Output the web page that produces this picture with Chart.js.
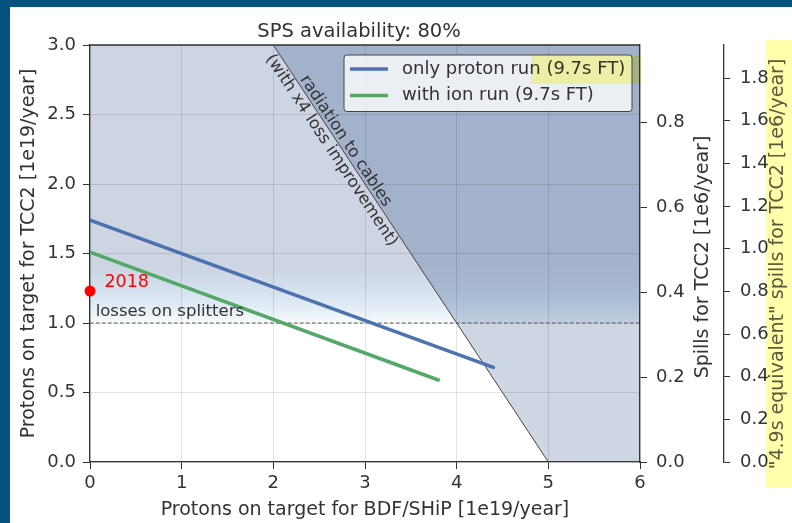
<!DOCTYPE html>
<html>
<head>
<meta charset="utf-8">
<script src="https://cdn.jsdelivr.net/npm/chart.js@4.4.1/dist/chart.umd.min.js"></script>
<style>
  html, body { margin: 0; padding: 0; background: #fff; }
</style>
</head>
<body>
<canvas id="myChart" width="792" height="523"></canvas>
<script>
// values
var protonRunX = [0, 4.4];
var protonRunY = [1.74, 0.68];
var ionRunX = [0, 3.8];
var ionRunY = [1.51, 0.59];
var point2018 = [0, 1.23];
var splitterX = [0, 6];
var splitterY = [1.0, 1.0];
var cablesX = [2, 5, 6];
var cablesY = [3, 0, 0];

var xTicks = [0, 1, 2, 3, 4, 5, 6];
var yTicks = [0, 0.5, 1.0, 1.5, 2.0, 2.5, 3.0];
var spillTicks = [0, 0.2, 0.4, 0.6, 0.8];
var spillEqTicks = [0, 0.2, 0.4, 0.6, 0.8, 1.0, 1.2, 1.4, 1.6, 1.8];
var spillMax = 0.983;
var spillEqMax = 1.955;

var titleText = 'SPS availability: 80%';
var xTitle = 'Protons on target for BDF/SHiP [1e19/year]';
var yTitle = 'Protons on target for TCC2 [1e19/year]';
var y2Title = 'Spills for TCC2 [1e6/year]';
var y3Title = '"4.9s equivalent" spills for TCC2 [1e6/year]';

Chart.defaults.font.family = '"DejaVu Sans", sans-serif';
Chart.defaults.color = '#333';

function pts(xs, ys) {
  return xs.map(function (x, i) { return {x: x, y: ys[i]}; });
}

function splitterFill(context) {
  var chart = context.chart;
  if (!chart.chartArea) return 'rgba(205,212,226,1)';
  var y = chart.scales.y;
  var g = chart.ctx.createLinearGradient(0, y.getPixelForValue(splitterY[0]), 0, y.getPixelForValue(splitterY[0] + 0.45));
  g.addColorStop(0, 'rgb(248,251,254)');
  g.addColorStop(0.3, 'rgb(222,234,244)');
  g.addColorStop(0.6, 'rgb(211,222,236)');
  g.addColorStop(0.85, 'rgb(205,212,226)');
  g.addColorStop(1, 'rgb(205,212,226)');
  return g;
}

function cablesFill(context) {
  var chart = context.chart;
  if (!chart.chartArea) return 'rgba(207,214,227,1)';
  var y = chart.scales.y;
  var top = splitterY[0] + 0.45;
  var g = chart.ctx.createLinearGradient(0, y.getPixelForValue(0), 0, y.getPixelForValue(top));
  var t = splitterY[0] / top;
  g.addColorStop(0, 'rgb(207,214,227)');
  g.addColorStop(t, 'rgb(207,214,227)');
  g.addColorStop(t + 0.002, 'rgb(190,206,223)');
  g.addColorStop(0.8, 'rgb(172,191,214)');
  g.addColorStop(0.9, 'rgb(165,182,206)');
  g.addColorStop(1, 'rgb(162,178,202)');
  return g;
}

var decor = {
  id: 'decor',
  beforeDraw: function (chart) {
    var ctx = chart.ctx;
    ctx.save();
    ctx.fillStyle = '#03527f';
    ctx.fillRect(0, 0, chart.width, 7);
    ctx.fillRect(0, 0, 10, chart.height);
    ctx.restore();
  },
  afterDraw: function (chart) {
    var ctx = chart.ctx, a = chart.chartArea;
    var sx = chart.scales.x, sy = chart.scales.y;
    ctx.save();

    // top frame
    ctx.strokeStyle = '#333';
    ctx.lineWidth = 1.3;
    ctx.beginPath();
    ctx.moveTo(a.left, a.top);
    ctx.lineTo(a.right, a.top);
    ctx.stroke();

    // title
    ctx.fillStyle = '#333';
    ctx.font = '19.5px "DejaVu Sans"';
    ctx.textAlign = 'center';
    ctx.textBaseline = 'alphabetic';
    ctx.fillText(titleText, (a.left + a.right) / 2 - 6, 37);

    // notes
    ctx.textAlign = 'left';
    ctx.font = '16.5px "DejaVu Sans"';
    ctx.fillText('losses on splitters', sx.getPixelForValue(0.062), sy.getPixelForValue(1.05));
    ctx.fillStyle = '#ff0000';
    ctx.font = '17.5px "DejaVu Sans"';
    ctx.fillText('2018', sx.getPixelForValue(0.157), sy.getPixelForValue(1.259));

    // text along the cables line
    var x0 = sx.getPixelForValue(cablesX[0]), y0 = sy.getPixelForValue(cablesY[0]);
    var x1 = sx.getPixelForValue(cablesX[1]), y1 = sy.getPixelForValue(cablesY[1]);
    var ang = Math.atan2(y1 - y0, x1 - x0);
    var ax = sx.getPixelForValue(2.72), ay = sy.getPixelForValue(2.28);
    ctx.save();
    ctx.translate(ax, ay);
    ctx.rotate(ang);
    ctx.fillStyle = '#333';
    ctx.font = '16.5px "DejaVu Sans"';
    ctx.textAlign = 'center';
    ctx.textBaseline = 'middle';
    ctx.fillText('radiation to cables', 0, -7.5);
    ctx.fillText('(with x4 loss improvement)', 0, 9.5);
    ctx.restore();

    // right axis titles (bottom to top)
    ctx.font = '19px "DejaVu Sans"';
    ctx.textAlign = 'center';
    ctx.textBaseline = 'alphabetic';
    ctx.save();
    ctx.translate(chart.scales.y2.left + 68, 257);
    ctx.rotate(-Math.PI / 2);
    ctx.fillStyle = '#333';
    ctx.fillText(y2Title, 0, 0);
    ctx.restore();
    ctx.save();
    ctx.translate(chart.scales.y3.left + 59, 264);
    ctx.rotate(-Math.PI / 2);
    ctx.fillStyle = '#5a5a5a';
    ctx.fillText(y3Title, 0, 0);
    ctx.restore();

    // legend
    var lx = a.right - 296, ly = a.top + 10, lw = 288, lh = 56.5;
    ctx.beginPath();
    ctx.roundRect(lx, ly, lw, lh, 3);
    ctx.fillStyle = 'rgba(255,255,255,0.78)';
    ctx.fill();
    ctx.strokeStyle = '#444';
    ctx.lineWidth = 1;
    ctx.stroke();
    var items = chart.data.datasets.filter(function (d) { return d.inLegend; });
    ctx.font = '18px "DejaVu Sans"';
    ctx.textAlign = 'left';
    ctx.textBaseline = 'middle';
    items.forEach(function (d, i) {
      var yy = ly + 14 + i * 26.5;
      ctx.strokeStyle = d.borderColor;
      ctx.lineWidth = 3.5;
      ctx.beginPath();
      ctx.moveTo(lx + 6, yy);
      ctx.lineTo(lx + 44, yy);
      ctx.stroke();
      ctx.fillStyle = '#333';
      ctx.fillText(d.label, lx + 58, yy);
    });

    // yellow highlights
    ctx.globalCompositeOperation = 'multiply';
    ctx.fillStyle = 'rgb(255,255,172)';
    ctx.fillRect(531, 56, 110, 28);
    ctx.fillRect(765, 40, 27, 448);
    ctx.restore();
  }
};

var ctx = document.getElementById('myChart').getContext('2d');
var myChart = new Chart(ctx, {
  type: 'line',
  data: {
    datasets: [
      {
        label: 'only proton run (9.7s FT)',
        inLegend: true,
        data: pts(protonRunX, protonRunY),
        borderColor: '#4c72b0',
        backgroundColor: '#4c72b0',
        borderWidth: 3.5,
        borderCapStyle: 'round',
        pointRadius: 0,
        fill: false,
        order: 1
      },
      {
        label: 'with ion run (9.7s FT)',
        inLegend: true,
        data: pts(ionRunX, ionRunY),
        borderColor: '#55a868',
        backgroundColor: '#55a868',
        borderWidth: 3.5,
        borderCapStyle: 'round',
        pointRadius: 0,
        fill: false,
        order: 1
      },
      {
        label: '2018',
        data: [{x: point2018[0], y: point2018[1]}],
        showLine: false,
        pointRadius: 5.5,
        pointBackgroundColor: '#ff0000',
        pointBorderWidth: 0,
        clip: false,
        order: 0
      },
      {
        label: 'losses on splitters',
        data: pts(splitterX, splitterY),
        borderColor: '#555',
        borderWidth: 1.1,
        borderDash: [3.5, 2.5],
        pointRadius: 0,
        backgroundColor: splitterFill,
        fill: 'end',
        order: 3
      },
      {
        label: 'radiation to cables',
        data: pts(cablesX, cablesY),
        borderColor: '#444',
        borderWidth: 1,
        pointRadius: 0,
        backgroundColor: cablesFill,
        fill: 'end',
        order: 2
      }
    ]
  },
  options: {
    responsive: false,
    animation: false,
    layout: { padding: { top: 45, left: 0, right: 0, bottom: 0 }, autoPadding: false },
    plugins: {
      legend: { display: false },
      tooltip: { enabled: false },
      filler: { drawTime: 'beforeDraw' }
    },
    scales: {
      x: {
        type: 'linear',
        position: 'bottom',
        min: 0,
        max: 6,
        afterBuildTicks: function (axis) { axis.ticks = xTicks.map(function (v) { return {value: v}; }); },
        afterFit: function (axis) { axis.height = 61; },
        ticks: { font: { size: 18 }, padding: 4, callback: function (v) { return String(v); } },
        grid: { color: 'rgba(0,0,0,0.11)', tickColor: '#333', tickLength: 7 },
        border: { color: '#333', width: 1.3 },
        title: { display: true, text: xTitle, font: { size: 19 }, padding: { top: 0, bottom: 2 } }
      },
      y: {
        type: 'linear',
        position: 'left',
        min: 0,
        max: 3,
        afterBuildTicks: function (axis) { axis.ticks = yTicks.map(function (v) { return {value: v}; }); },
        afterFit: function (axis) { axis.width = 90; },
        ticks: { font: { size: 18 }, padding: 7, callback: function (v) { return v.toFixed(1); } },
        grid: { color: 'rgba(0,0,0,0.11)', tickColor: '#333', tickLength: 7 },
        border: { color: '#333', width: 1.3 },
        title: { display: true, text: yTitle, font: { size: 19 }, padding: { top: 17.5, bottom: 0 } }
      },
      y2: {
        type: 'linear',
        position: 'right',
        display: true,
        min: 0,
        max: spillMax,
        afterBuildTicks: function (axis) { axis.ticks = spillTicks.map(function (v) { return {value: v}; }); },
        afterFit: function (axis) { axis.width = 84; },
        ticks: { font: { size: 18 }, padding: 9, callback: function (v) { return v.toFixed(1); } },
        grid: { drawOnChartArea: false, tickColor: '#333', tickLength: 7 },
        border: { color: '#333', width: 1.3 }
      },
      y3: {
        type: 'linear',
        position: 'right',
        display: true,
        min: 0,
        max: spillEqMax,
        afterBuildTicks: function (axis) { axis.ticks = spillEqTicks.map(function (v) { return {value: v}; }); },
        afterFit: function (axis) { axis.width = 68; },
        ticks: { font: { size: 18 }, padding: 10, callback: function (v) { return v.toFixed(1); } },
        grid: { drawOnChartArea: false, tickColor: '#333', tickLength: 6 },
        border: { color: '#333', width: 1.3 }
      }
    }
  },
  plugins: [decor]
});
</script>
</body>
</html>
